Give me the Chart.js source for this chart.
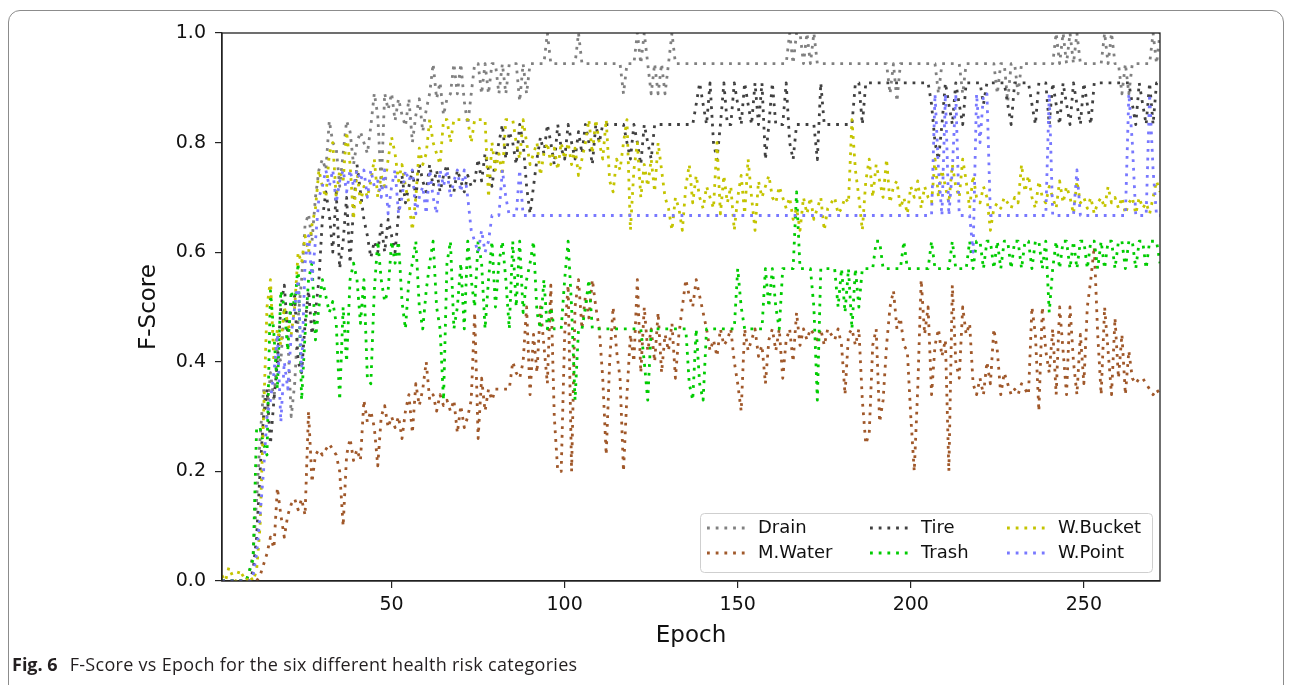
<!DOCTYPE html>
<html>
<head>
<meta charset="utf-8">
<script src="https://cdn.jsdelivr.net/npm/chart.js@4.4.1/dist/chart.umd.min.js"></script>
<style>
body { margin: 0; background: #fff; }
#frame { position: absolute; left: 8px; top: 10px; width: 1274px; height: 700px; border: 1px solid #8c8c8c; border-radius: 12px; }
#wrap { position: absolute; left: 0; top: 0; width: 1290px; height: 685px; }
#caption { position: absolute; left: 12px; top: 652px; font-family: "Open Sans"; font-size: 18px; letter-spacing: 0.3px; color: #231f20; white-space: nowrap; }
#caption b { font-weight: 700; margin-right: 7px; letter-spacing: 0; }
</style>
</head>
<body>
<div id="frame"></div>
<div id="wrap"><canvas id="fig6" width="1290" height="685"></canvas></div>
<div id="caption"><b>Fig. 6</b> F-Score vs Epoch for the six different health risk categories</div>
<script>
var seriesNames = ["Drain", "M.Water", "Tire", "Trash", "W.Bucket", "W.Point"];
var seriesColors = ["#808080", "#a0582a", "#404040", "#00cc00", "#c4c400", "#7878ff"];
var xTicks = [50, 100, 150, 200, 250];
var yTicks = [0, 0.2, 0.4, 0.6, 0.8, 1.0];

var drain = [
    0, 0, 0, 0, 0, 0, 0, 0, 0.02, 0.05,
    0.15, 0.26, 0.35, 0.3, 0.38, 0.33, 0.42, 0.4, 0.5, 0.45,
    0.3, 0.36, 0.48, 0.55, 0.65, 0.67, 0.62, 0.7, 0.75, 0.77,
    0.75, 0.84, 0.8, 0.79, 0.72, 0.78, 0.84, 0.82, 0.76, 0.8,
    0.82, 0.8, 0.78, 0.83, 0.89, 0.85, 0.72, 0.89, 0.86, 0.89,
    0.84, 0.88, 0.85, 0.83, 0.88, 0.8, 0.85, 0.88, 0.82, 0.86,
    0.89, 0.944, 0.88, 0.91, 0.85, 0.88, 0.889, 0.944, 0.889, 0.944,
    0.875, 0.833, 0.889, 0.944, 0.944, 0.889, 0.944, 0.889, 0.944, 0.944,
    0.889, 0.944, 0.889, 0.944, 0.944, 0.944, 0.875, 0.944, 0.889, 0.944,
    0.944, 0.944, 0.944, 0.944, 1, 0.944, 0.944, 0.944, 0.944, 0.944,
    0.944, 0.944, 0.944, 1, 0.944, 0.944, 0.944, 0.944, 0.944, 0.944,
    0.944, 0.944, 0.944, 0.944, 0.944, 0.944, 0.889, 0.944, 0.944, 0.944,
    1, 0.944, 1, 0.944, 0.889, 0.944, 0.889, 0.944, 0.889, 0.944,
    1, 0.944, 0.944, 0.944, 0.944, 0.944, 0.944, 0.944, 0.944, 0.944,
    0.944, 0.944, 0.944, 0.944, 0.944, 0.944, 0.944, 0.944, 0.944, 0.944,
    0.944, 0.944, 0.944, 0.944, 0.944, 0.944, 0.944, 0.944, 0.944, 0.944,
    0.944, 0.944, 0.944, 0.944, 1, 0.944, 1, 1, 0.944, 1,
    0.944, 1, 0.944, 0.944, 0.944, 0.944, 0.944, 0.944, 0.944, 0.944,
    0.944, 0.944, 0.944, 0.944, 0.944, 0.944, 0.944, 0.944, 0.944, 0.944,
    0.944, 0.944, 0.944, 0.889, 0.944, 0.875, 0.944, 0.944, 0.944, 0.944,
    0.944, 0.944, 0.944, 0.944, 0.944, 0.944, 0.944, 0.889, 0.944, 0.944,
    0.944, 0.944, 0.944, 0.944, 0.889, 0.944, 0.944, 0.944, 0.944, 0.944,
    0.944, 0.944, 0.944, 0.944, 0.889, 0.944, 0.944, 0.875, 0.944, 0.944,
    0.889, 0.944, 0.944, 0.944, 0.944, 0.944, 0.944, 0.944, 0.944, 0.944,
    0.944, 1, 0.944, 1, 0.944, 1, 0.944, 1, 0.944, 0.944,
    0.944, 0.944, 0.944, 0.944, 0.944, 1, 0.944, 1, 0.944, 0.944,
    0.889, 0.944, 0.889, 0.944, 0.944, 0.944, 0.944, 0.944, 0.944, 1,
    0.944, 1
];

var mWater = [
    0, 0, 0, 0, 0, 0, 0, 0, 0, 0,
    0, 0.01, 0.03, 0.05, 0.08, 0.06, 0.17, 0.12, 0.08, 0.12,
    0.14, 0.15, 0.13, 0.15, 0.12, 0.31, 0.18, 0.23, 0.24, 0.23,
    0.24, 0.25, 0.24, 0.23, 0.2, 0.1, 0.23, 0.26, 0.22, 0.24,
    0.22, 0.33, 0.29, 0.31, 0.28, 0.21, 0.3, 0.32, 0.28, 0.3,
    0.28, 0.3, 0.26, 0.31, 0.34, 0.27, 0.36, 0.32, 0.35, 0.4,
    0.33, 0.34, 0.31, 0.34, 0.32, 0.33, 0.31, 0.33, 0.27, 0.32,
    0.28, 0.3, 0.33, 0.49, 0.26, 0.37, 0.31, 0.35, 0.33, 0.35,
    0.35, 0.35, 0.35, 0.35, 0.4, 0.38, 0.37, 0.4, 0.5, 0.34,
    0.45, 0.38, 0.5, 0.43, 0.36, 0.54, 0.3, 0.2, 0.2, 0.45,
    0.54, 0.2, 0.5, 0.55, 0.46, 0.52, 0.48, 0.55, 0.5, 0.46,
    0.37, 0.23, 0.4, 0.5, 0.42, 0.37, 0.2, 0.34, 0.45, 0.4,
    0.55, 0.38, 0.5, 0.42, 0.46, 0.4, 0.49, 0.38, 0.45, 0.42,
    0.47, 0.37, 0.45, 0.5, 0.55, 0.52, 0.5, 0.55, 0.52, 0.49,
    0.46, 0.42, 0.44, 0.41, 0.46, 0.43, 0.44, 0.46, 0.4, 0.36,
    0.31, 0.46, 0.42, 0.44, 0.46, 0.41, 0.43, 0.36, 0.44, 0.46,
    0.42, 0.46, 0.37, 0.44, 0.46, 0.4, 0.49, 0.43, 0.46, 0.44,
    0.46, 0.45, 0.44, 0.46, 0.43, 0.46, 0.45, 0.44, 0.46, 0.43,
    0.34, 0.45, 0.46, 0.43, 0.46, 0.33, 0.25, 0.27, 0.43, 0.46,
    0.29, 0.33, 0.43, 0.5, 0.53, 0.46, 0.48, 0.43, 0.42, 0.3,
    0.2, 0.35, 0.55, 0.45, 0.5, 0.34, 0.43, 0.46, 0.41, 0.44,
    0.2, 0.54, 0.4, 0.37, 0.5, 0.45, 0.47, 0.36, 0.34, 0.37,
    0.34, 0.4, 0.36, 0.46, 0.42, 0.34, 0.38, 0.36, 0.34, 0.35,
    0.34, 0.36, 0.35, 0.34, 0.5, 0.45, 0.31, 0.5, 0.42, 0.38,
    0.46, 0.34, 0.5, 0.42, 0.34, 0.5, 0.4, 0.34, 0.45, 0.36,
    0.5, 0.55, 0.61, 0.45, 0.34, 0.5, 0.42, 0.34, 0.48, 0.37,
    0.45, 0.34, 0.42, 0.37, 0.36, 0.37, 0.37, 0.36, 0.35, 0.34,
    0.35, 0.34
];

var tire = [
    0, 0, 0, 0, 0, 0, 0, 0, 0, 0.02,
    0.08, 0.2, 0.3, 0.35, 0.25, 0.33, 0.4, 0.5, 0.54, 0.45,
    0.5, 0.52, 0.4, 0.38, 0.47, 0.53, 0.45, 0.49, 0.55, 0.66,
    0.71, 0.67, 0.6, 0.71, 0.57, 0.62, 0.7, 0.58, 0.68, 0.76,
    0.71, 0.66, 0.63, 0.59, 0.62, 0.6, 0.65, 0.6, 0.66, 0.63,
    0.6, 0.67, 0.74, 0.69, 0.72, 0.75, 0.7, 0.76, 0.73, 0.71,
    0.76, 0.72, 0.75, 0.71, 0.74, 0.76, 0.72, 0.71, 0.75, 0.73,
    0.71, 0.74, 0.72, 0.73, 0.77, 0.73, 0.78, 0.75, 0.72, 0.77,
    0.8, 0.833, 0.77, 0.82, 0.8, 0.76, 0.833, 0.8, 0.72, 0.67,
    0.72, 0.77, 0.81, 0.78, 0.833, 0.8, 0.76, 0.833, 0.79, 0.77,
    0.833, 0.8, 0.77, 0.82, 0.78, 0.833, 0.8, 0.76, 0.833, 0.8,
    0.833, 0.833, 0.833, 0.833, 0.833, 0.833, 0.833, 0.8, 0.77, 0.833,
    0.8, 0.76, 0.833, 0.8, 0.77, 0.833, 0.833, 0.833, 0.833, 0.833,
    0.833, 0.833, 0.833, 0.833, 0.833, 0.833, 0.833, 0.87, 0.909, 0.87,
    0.833, 0.909, 0.8, 0.769, 0.833, 0.909, 0.833, 0.833, 0.909, 0.87,
    0.833, 0.909, 0.87, 0.833, 0.909, 0.833, 0.909, 0.769, 0.833, 0.909,
    0.833, 0.833, 0.833, 0.909, 0.8, 0.769, 0.833, 0.833, 0.833, 0.833,
    0.833, 0.833, 0.769, 0.909, 0.833, 0.833, 0.833, 0.833, 0.833, 0.833,
    0.833, 0.833, 0.833, 0.909, 0.909, 0.833, 0.909, 0.909, 0.909, 0.909,
    0.909, 0.909, 0.909, 0.909, 0.909, 0.909, 0.909, 0.909, 0.909, 0.909,
    0.909, 0.909, 0.909, 0.909, 0.909, 0.87, 0.8, 0.769, 0.833, 0.909,
    0.87, 0.833, 0.909, 0.87, 0.833, 0.909, 0.909, 0.909, 0.909, 0.909,
    0.87, 0.909, 0.909, 0.909, 0.909, 0.909, 0.909, 0.87, 0.833, 0.909,
    0.909, 0.909, 0.909, 0.909, 0.87, 0.833, 0.909, 0.909, 0.909, 0.833,
    0.909, 0.87, 0.833, 0.909, 0.87, 0.833, 0.909, 0.87, 0.833, 0.909,
    0.87, 0.833, 0.909, 0.909, 0.909, 0.909, 0.909, 0.909, 0.909, 0.909,
    0.909, 0.909, 0.909, 0.87, 0.833, 0.909, 0.87, 0.833, 0.909, 0.833,
    0.909, 0.909
];

var trash = [
    0, 0, 0, 0, 0, 0, 0, 0, 0.02, 0.04,
    0.28, 0.28, 0.25, 0.23, 0.53, 0.45, 0.35, 0.53, 0.5, 0.42,
    0.53, 0.5, 0.58, 0.33, 0.45, 0.55, 0.58, 0.44, 0.5, 0.55,
    0.52, 0.49, 0.51, 0.47, 0.33, 0.5, 0.4, 0.55, 0.58, 0.55,
    0.47, 0.55, 0.37, 0.36, 0.53, 0.62, 0.55, 0.51, 0.53, 0.62,
    0.58, 0.62, 0.51, 0.46, 0.55, 0.58, 0.62, 0.5, 0.46, 0.53,
    0.58, 0.62, 0.5, 0.46, 0.33, 0.58, 0.62, 0.46, 0.5, 0.58,
    0.46, 0.62, 0.55, 0.5, 0.62, 0.58, 0.46, 0.55, 0.62, 0.5,
    0.58, 0.62, 0.55, 0.46, 0.62, 0.5, 0.62, 0.49, 0.55, 0.58,
    0.62, 0.49, 0.46, 0.55, 0.46, 0.5, 0.46, 0.46, 0.46, 0.55,
    0.62, 0.5, 0.33, 0.46, 0.46, 0.5, 0.55, 0.46, 0.46, 0.46,
    0.46, 0.46, 0.46, 0.46, 0.46, 0.46, 0.46, 0.46, 0.46, 0.46,
    0.46, 0.46, 0.4, 0.33, 0.46, 0.46, 0.46, 0.46, 0.46, 0.46,
    0.46, 0.46, 0.46, 0.46, 0.46, 0.36, 0.33, 0.46, 0.36, 0.33,
    0.46, 0.46, 0.46, 0.46, 0.46, 0.46, 0.46, 0.46, 0.46, 0.57,
    0.5, 0.46, 0.46, 0.46, 0.46, 0.46, 0.46, 0.57, 0.5, 0.57,
    0.5, 0.46, 0.57, 0.57, 0.57, 0.57, 0.71, 0.57, 0.57, 0.57,
    0.57, 0.5, 0.33, 0.57, 0.57, 0.57, 0.57, 0.57, 0.5, 0.57,
    0.49, 0.57, 0.46, 0.57, 0.5, 0.57, 0.57, 0.57, 0.57, 0.62,
    0.62, 0.57, 0.57, 0.57, 0.57, 0.57, 0.57, 0.62, 0.57, 0.57,
    0.57, 0.57, 0.57, 0.57, 0.57, 0.62, 0.57, 0.57, 0.57, 0.57,
    0.57, 0.62, 0.57, 0.57, 0.57, 0.57, 0.62, 0.57, 0.62, 0.62,
    0.57, 0.62, 0.62, 0.57, 0.62, 0.57, 0.62, 0.62, 0.57, 0.62,
    0.62, 0.57, 0.62, 0.62, 0.57, 0.62, 0.62, 0.57, 0.62, 0.49,
    0.57, 0.62, 0.57, 0.62, 0.62, 0.57, 0.62, 0.57, 0.62, 0.62,
    0.57, 0.62, 0.62, 0.57, 0.62, 0.57, 0.62, 0.62, 0.57, 0.62,
    0.62, 0.57, 0.62, 0.62, 0.57, 0.62, 0.62, 0.57, 0.62, 0.62,
    0.62, 0.58
];

var wBucket = [
    0.01, 0, 0.025, 0.01, 0, 0.02, 0.01, 0, 0.01, 0,
    0.02, 0.1, 0.3, 0.5, 0.55, 0.4, 0.46, 0.43, 0.5, 0.47,
    0.45, 0.5, 0.6, 0.58, 0.63, 0.6, 0.65, 0.68, 0.75, 0.72,
    0.7, 0.78, 0.8, 0.7, 0.75, 0.73, 0.82, 0.76, 0.66, 0.75,
    0.69, 0.72, 0.7, 0.73, 0.77, 0.7, 0.74, 0.72, 0.77, 0.81,
    0.78, 0.73, 0.76, 0.72, 0.69, 0.64, 0.7, 0.79, 0.76, 0.78,
    0.842, 0.8, 0.78, 0.76, 0.842, 0.842, 0.8, 0.842, 0.842, 0.842,
    0.842, 0.842, 0.8, 0.842, 0.842, 0.842, 0.842, 0.7, 0.8, 0.75,
    0.78, 0.74, 0.842, 0.842, 0.842, 0.8, 0.77, 0.842, 0.8, 0.76,
    0.78, 0.8, 0.74, 0.78, 0.8, 0.76, 0.79, 0.75, 0.8, 0.77,
    0.8, 0.76, 0.79, 0.74, 0.77, 0.8, 0.842, 0.78, 0.842, 0.8,
    0.77, 0.842, 0.73, 0.71, 0.77, 0.75, 0.8, 0.842, 0.64, 0.75,
    0.8, 0.7, 0.76, 0.72, 0.77, 0.71, 0.8, 0.75, 0.7, 0.68,
    0.64, 0.7, 0.68, 0.64, 0.72, 0.76, 0.69, 0.74, 0.7, 0.68,
    0.72, 0.7, 0.68, 0.8, 0.67, 0.74, 0.69, 0.72, 0.64, 0.7,
    0.74, 0.67, 0.77, 0.7, 0.64, 0.73, 0.7, 0.72, 0.74, 0.7,
    0.69, 0.72, 0.7, 0.68, 0.7, 0.66, 0.68, 0.64, 0.7, 0.67,
    0.7, 0.66, 0.68, 0.7, 0.64, 0.68, 0.69, 0.7, 0.67, 0.68,
    0.7, 0.69, 0.842, 0.75, 0.7, 0.64, 0.73, 0.77, 0.7, 0.76,
    0.73, 0.7, 0.77, 0.69, 0.72, 0.73, 0.68, 0.7, 0.67, 0.72,
    0.7, 0.73, 0.68, 0.72, 0.7, 0.69, 0.77, 0.7, 0.75, 0.72,
    0.69, 0.76, 0.72, 0.7, 0.77, 0.73, 0.68, 0.74, 0.7, 0.69,
    0.72, 0.7, 0.64, 0.68, 0.69, 0.68, 0.7, 0.69, 0.68, 0.7,
    0.69, 0.76, 0.71, 0.74, 0.7, 0.68, 0.73, 0.7, 0.69, 0.72,
    0.7, 0.68, 0.73, 0.69, 0.72, 0.7, 0.67, 0.73, 0.69, 0.7,
    0.68, 0.7, 0.67, 0.69, 0.7, 0.68, 0.72, 0.69, 0.7, 0.68,
    0.7, 0.67, 0.69, 0.7, 0.67, 0.7, 0.68, 0.69, 0.67, 0.7,
    0.73, 0.71
];

var wPoint = [
    0, 0, 0, 0, 0, 0, 0, 0, 0, 0.01,
    0.05, 0.12, 0.2, 0.3, 0.33, 0.38, 0.45, 0.29, 0.4, 0.35,
    0.45, 0.5, 0.55, 0.38, 0.58, 0.63, 0.55, 0.62, 0.7, 0.72,
    0.75, 0.72, 0.75, 0.69, 0.73, 0.75, 0.71, 0.75, 0.72, 0.75,
    0.73, 0.75, 0.7, 0.75, 0.72, 0.73, 0.7, 0.75, 0.67, 0.72,
    0.75, 0.67, 0.7, 0.75, 0.73, 0.75, 0.67, 0.7, 0.72, 0.67,
    0.75, 0.7, 0.67, 0.75, 0.72, 0.75, 0.7, 0.73, 0.75, 0.71,
    0.75, 0.7, 0.64, 0.62, 0.6, 0.64, 0.6, 0.62, 0.667, 0.667,
    0.667, 0.75, 0.7, 0.667, 0.667, 0.667, 0.75, 0.667, 0.667, 0.667,
    0.667, 0.667, 0.667, 0.667, 0.667, 0.667, 0.667, 0.667, 0.667, 0.667,
    0.667, 0.667, 0.667, 0.667, 0.667, 0.667, 0.667, 0.667, 0.667, 0.667,
    0.667, 0.667, 0.667, 0.667, 0.667, 0.667, 0.667, 0.667, 0.667, 0.667,
    0.667, 0.667, 0.667, 0.667, 0.667, 0.667, 0.667, 0.667, 0.667, 0.667,
    0.667, 0.667, 0.667, 0.667, 0.667, 0.667, 0.667, 0.667, 0.667, 0.667,
    0.667, 0.667, 0.667, 0.667, 0.667, 0.667, 0.667, 0.667, 0.667, 0.667,
    0.667, 0.667, 0.667, 0.667, 0.667, 0.667, 0.667, 0.667, 0.667, 0.667,
    0.667, 0.667, 0.667, 0.667, 0.667, 0.667, 0.667, 0.667, 0.667, 0.667,
    0.667, 0.667, 0.667, 0.667, 0.667, 0.667, 0.667, 0.667, 0.667, 0.667,
    0.667, 0.667, 0.667, 0.667, 0.667, 0.667, 0.667, 0.667, 0.667, 0.667,
    0.667, 0.667, 0.667, 0.667, 0.667, 0.667, 0.667, 0.667, 0.667, 0.667,
    0.667, 0.667, 0.667, 0.667, 0.667, 0.667, 0.889, 0.75, 0.667, 0.889,
    0.667, 0.75, 0.889, 0.667, 0.667, 0.667, 0.667, 0.6, 0.889, 0.8,
    0.889, 0.889, 0.667, 0.667, 0.667, 0.667, 0.667, 0.667, 0.667, 0.667,
    0.667, 0.667, 0.667, 0.667, 0.667, 0.667, 0.667, 0.667, 0.667, 0.889,
    0.667, 0.667, 0.667, 0.667, 0.667, 0.667, 0.667, 0.75, 0.667, 0.667,
    0.667, 0.667, 0.667, 0.667, 0.667, 0.667, 0.667, 0.667, 0.667, 0.667,
    0.667, 0.667, 0.889, 0.8, 0.667, 0.667, 0.667, 0.667, 0.889, 0.75,
    0.667, 0.667
];

var seriesValues = [drain, mWater, tire, trash, wBucket, wPoint];
var epochs = [];
for (var e = 1; e <= drain.length; e++) epochs.push(e);

// matplotlib style box: spines on all four sides
var spineBox = {
    id: 'spineBox',
    afterDatasetsDraw: function(chart) {
        var a = chart.chartArea, ctx = chart.ctx;
        ctx.save();
        ctx.strokeStyle = '#222';
        ctx.lineWidth = 1.3;
        ctx.strokeRect(a.left, a.top, a.right - a.left, a.bottom - a.top);
        ctx.restore();
    }
};

// legend inside the axes, 3 columns x 2 rows
var legendBox = {
    id: 'legendBox',
    afterDraw: function(chart) {
        var ctx = chart.ctx;
        ctx.save();
        ctx.fillStyle = 'rgba(255,255,255,0.85)';
        ctx.strokeStyle = '#cfcfcf';
        ctx.lineWidth = 1;
        ctx.beginPath();
        ctx.roundRect(700.5, 513.5, 452, 59, 4);
        ctx.fill();
        ctx.stroke();
        var cols = [707, 870, 1007], rows = [528, 553];
        chart.data.datasets.forEach(function(ds, i) {
            var cx = cols[Math.floor(i / 2)], cy = rows[i % 2];
            ctx.strokeStyle = ds.borderColor;
            ctx.lineWidth = ds.borderWidth;
            ctx.setLineDash(ds.borderDash);
            ctx.beginPath();
            ctx.moveTo(cx, cy);
            ctx.lineTo(cx + 38, cy);
            ctx.stroke();
            ctx.setLineDash([]);
            ctx.fillStyle = '#111';
            ctx.font = '18px "DejaVu Sans"';
            ctx.textBaseline = 'middle';
            ctx.fillText(ds.label, cx + 51, cy);
        });
        ctx.restore();
    }
};

var datasets = seriesNames.map(function(name, i) {
    return {
        label: name,
        data: seriesValues[i],
        borderColor: seriesColors[i],
        borderWidth: 2.8,
        borderDash: [2.8, 5.9],
        borderJoinStyle: 'round',
        pointRadius: 0,
        tension: 0,
        fill: false,
        order: seriesNames.length - i
    };
});

Chart.defaults.font.family = '"DejaVu Sans"';
Chart.defaults.color = '#111';

new Chart(document.getElementById('fig6'), {
    type: 'line',
    data: { labels: epochs, datasets: datasets },
    options: {
        responsive: false,
        animation: false,
        layout: { padding: { left: 131, top: 33, right: 130, bottom: 31 } },
        plugins: { legend: { display: false }, tooltip: { enabled: false } },
        scales: {
            x: {
                type: 'linear',
                min: 1,
                max: 272,
                afterFit: function(s) { s.height = 73; },
                afterBuildTicks: function(s) { s.ticks = xTicks.map(function(v) { return { value: v }; }); },
                grid: { drawOnChartArea: false, drawTicks: true, tickLength: 7, color: '#222', lineWidth: 1.2 },
                border: { color: '#222', width: 1.3 },
                ticks: { font: { size: 19 }, padding: 6, maxRotation: 0, color: '#111' },
                title: { display: true, text: 'Epoch', font: { size: 23 }, color: '#111', padding: { top: 4, bottom: 4 } }
            },
            y: {
                min: 0,
                max: 1,
                afterFit: function(s) { s.width = 91; },
                afterBuildTicks: function(s) { s.ticks = yTicks.map(function(v) { return { value: v }; }); },
                grid: { drawOnChartArea: false, drawTicks: true, tickLength: 7, color: '#222', lineWidth: 1.2 },
                border: { color: '#222', width: 1.3 },
                ticks: { font: { size: 19 }, padding: 9, color: '#111', callback: function(v) { return v.toFixed(1); } },
                title: { display: true, text: 'F-Score', font: { size: 23 }, color: '#111', padding: { top: 4, bottom: 4 } }
            }
        }
    },
    plugins: [spineBox, legendBox]
});
</script>
</body>
</html>
